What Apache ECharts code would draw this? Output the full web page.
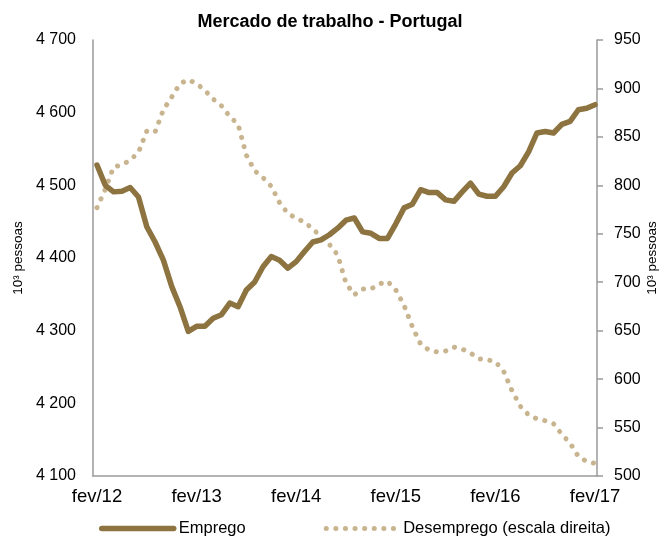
<!DOCTYPE html>
<html>
<head>
<meta charset="utf-8">
<title>Mercado de trabalho - Portugal</title>
<script src="https://cdn.jsdelivr.net/npm/echarts@6/dist/echarts.min.js"></script>
<style>
  html, body { margin: 0; padding: 0; background: #fff; }
  #chart { width: 660px; height: 537px; }
</style>
</head>
<body>
<div id="chart"></div>
<script>
// meses de fev/12 a fev/17 (mensal)
const monthNames = ['fev', 'mar', 'abr', 'mai', 'jun', 'jul', 'ago', 'set', 'out', 'nov', 'dez', 'jan']
const years = ['12', '13', '14', '15', '16', '17']
const labelMonths = [0, 12, 24, 36, 48, 60] // fev de cada ano

// Emprego (10^3 pessoas, eixo esquerdo)
const emprego = [
  4528, 4500, 4491, 4492, 4497, 4484, 4443, 4422, 4397, 4361, 4333, 4299,
  4306, 4306, 4317, 4322, 4338, 4333, 4356, 4367, 4388, 4402, 4397, 4386,
  4395, 4409, 4422, 4425, 4432, 4441, 4452, 4455, 4436, 4434, 4427, 4427,
  4447, 4469, 4474, 4494, 4490, 4490, 4480, 4478, 4491, 4503, 4488, 4485,
  4485, 4498, 4517, 4527, 4546, 4572, 4574, 4572, 4584, 4588, 4604, 4606,
  4611
]

// Desemprego (10^3 pessoas, escala direita)
const desemprego = [
  777, 796, 819, 821, 826, 834, 856, 855, 878, 891, 905, 909,
  905, 898, 889, 882, 871, 863, 831, 815, 808, 799, 782, 771,
  766, 762, 755, 747, 739, 728, 699, 687, 693, 693, 698, 701,
  692, 676, 654, 636, 630, 628, 629, 633, 631, 627, 621, 620,
  618, 608, 588, 572, 563, 559, 557, 554, 543, 534, 520, 515,
  513
]

const leftTicks = { min: 4100, max: 4700, step: 100 }
const rightTicks = { min: 500, max: 950, step: 50 }

const categories = []
for (let i = 0; i < emprego.length; i++) {
  categories.push(monthNames[i % 12] + '/' + years[Math.floor((i + 1) / 12)])
}

// pares [indice do mes, valor] para o eixo x numerico
function pairs(arr) {
  return arr.map((v, i) => [i, v])
}

const axisColor = '#9a9a9a'
const textColor = '#000'
const font = 'Liberation Sans, Arial, sans-serif'

function spaced(v) {
  return String(v).replace(/\B(?=(\d{3})+(?!\d))/g, ' ')
}

const chart = echarts.init(document.getElementById('chart'))

chart.setOption({
  animation: false,
  textStyle: { fontFamily: font },
  title: {
    text: 'Mercado de trabalho - Portugal',
    left: 'center',
    top: 8,
    textStyle: { fontSize: 18, fontWeight: 'bold', color: textColor, fontFamily: font }
  },
  legend: {
    left: 94,
    top: 515,
    itemWidth: 72,
    itemHeight: 14,
    itemGap: 78,
    itemStyle: { opacity: 0 },
    lineStyle: { width: 'inherit' },
    textStyle: { fontSize: 16.5, color: textColor, fontFamily: font },
    data: ['Emprego', 'Desemprego (escala direita)']
  },
  grid: {
    left: 93,
    right: 63,
    top: 40,
    bottom: 61,
    containLabel: false,
    outerBoundsMode: 'none'
  },
  xAxis: {
    type: 'value',
    min: -0.48,
    max: 60.24,
    axisLine: { onZero: false, lineStyle: { color: axisColor, width: 1.5 } },
    axisTick: { show: false },
    axisLabel: {
      customValues: labelMonths,
      showMinLabel: true,
      showMaxLabel: true,
      color: textColor,
      fontSize: 18.5,
      margin: 11,
      formatter: v => categories[Math.round(v)]
    },
    splitLine: { show: false }
  },
  yAxis: [{
    type: 'value',
    position: 'left',
    min: leftTicks.min,
    max: leftTicks.max,
    interval: leftTicks.step,
    name: '10³ pessoas',
    nameLocation: 'middle',
    nameGap: 68,
    nameMoveOverlap: false,
    nameRotate: 90,
    nameTextStyle: { fontSize: 13.5, color: textColor },
    axisLine: { show: true, onZero: false, lineStyle: { color: axisColor, width: 1.5 } },
    axisTick: { show: false },
    axisLabel: { color: textColor, fontSize: 16, margin: 17, formatter: spaced },
    splitLine: { show: false }
  }, {
    type: 'value',
    position: 'right',
    min: rightTicks.min,
    max: rightTicks.max,
    interval: rightTicks.step,
    name: '10³ pessoas',
    nameLocation: 'middle',
    nameGap: 48,
    nameMoveOverlap: false,
    nameRotate: 90,
    nameTextStyle: { fontSize: 13.5, color: textColor },
    axisLine: { show: true, onZero: false, lineStyle: { color: axisColor, width: 1.5 } },
    axisTick: { show: true, inside: false, length: 6, lineStyle: { color: axisColor, width: 1.5 } },
    axisLabel: { color: textColor, fontSize: 16, margin: 17 },
    splitLine: { show: false }
  }],
  series: [{
    name: 'Emprego',
    type: 'line',
    yAxisIndex: 0,
    data: pairs(emprego),
    showSymbol: false,
    symbol: 'none',
    color: '#8c733f',
    lineStyle: { color: '#8c733f', width: 5.5, join: 'round', cap: 'round' },
    z: 3
  }, {
    name: 'Desemprego (escala direita)',
    type: 'line',
    yAxisIndex: 1,
    data: pairs(desemprego),
    showSymbol: false,
    symbol: 'none',
    color: '#c8b48f',
    lineStyle: { color: '#c8b48f', width: 5, type: [0.1, 9.5], cap: 'round', join: 'round' },
    z: 2
  }]
})
</script>
</body>
</html>
